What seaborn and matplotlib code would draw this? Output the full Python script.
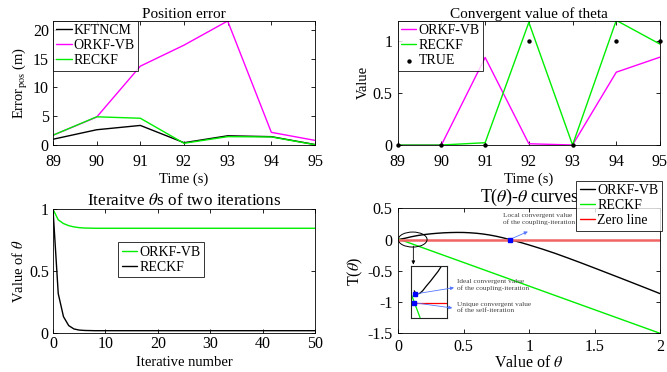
import numpy as np
import pandas as pd
import matplotlib
matplotlib.use("Agg")
import matplotlib.pyplot as plt
from matplotlib.patches import Ellipse
import seaborn as sns

# ---------------- data ----------------
time_s = [89, 90, 91, 92, 93, 94, 95]
err_kftncm = [1.0, 2.65, 3.4, 0.4, 1.6, 1.45, 0.08]
err_orkfvb = [1.7, 4.85, 13.7, 17.35, 21.55, 2.2, 0.8]
err_reckf = [1.7, 4.9, 4.65, 0.3, 1.45, 1.4, 0.05]

theta_orkfvb = [0.0, 0.0, 0.845, 0.012, 0.0, 0.703, 0.848]
theta_reckf = [0.0, 0.0, 0.022, 1.184, 0.0, 1.203, 0.974]
theta_true = [0, 0, 0, 1, 0, 1, 1]

iter_no = list(range(51))
iter_orkfvb = [1.000, 0.915, 0.885, 0.868, 0.858, 0.852, 0.849, 0.848, 0.847, 0.847,
               0.847, 0.847, 0.847, 0.847, 0.847, 0.847, 0.847, 0.847, 0.847, 0.847,
               0.847, 0.847, 0.847, 0.847, 0.847, 0.847, 0.847, 0.847, 0.847, 0.847,
               0.847, 0.847, 0.847, 0.847, 0.847, 0.847, 0.847, 0.847, 0.847, 0.847,
               0.847, 0.847, 0.847, 0.847, 0.847, 0.847, 0.847, 0.847, 0.847, 0.847,
               0.847]
iter_reckf = [1.000, 0.320, 0.134, 0.062, 0.035, 0.026, 0.023, 0.022, 0.021, 0.021,
              0.021, 0.021, 0.021, 0.021, 0.021, 0.021, 0.021, 0.021, 0.021, 0.021,
              0.021, 0.021, 0.021, 0.021, 0.021, 0.021, 0.021, 0.021, 0.021, 0.021,
              0.021, 0.021, 0.021, 0.021, 0.021, 0.021, 0.021, 0.021, 0.021, 0.021,
              0.021, 0.021, 0.021, 0.021, 0.021, 0.021, 0.021, 0.021, 0.021, 0.021,
              0.021]

theta_grid = [0.0, 0.05, 0.1, 0.15, 0.2, 0.25, 0.3, 0.35, 0.4, 0.45, 0.5, 0.55, 0.6,
              0.65, 0.7, 0.75, 0.8, 0.85, 0.9, 0.95, 1.0, 1.1, 1.2, 1.3, 1.4, 1.5,
              1.6, 1.7, 1.8, 1.9, 2.0]
T_orkfvb = [0.0, 0.02, 0.045, 0.065, 0.08, 0.092, 0.101, 0.108, 0.112, 0.114, 0.113,
            0.108, 0.1, 0.088, 0.072, 0.052, 0.028, 0.0, -0.027, -0.056, -0.087,
            -0.152, -0.222, -0.298, -0.376, -0.456, -0.537, -0.618, -0.7, -0.782, -0.865]
T_reckf_x = [0.0, 2.0]
T_reckf = [0.01, -1.5]
zero_x = [0.0, 2.0]
zero_y = [0.0, 0.0]

# zoomed view near the origin (inset, normalised coordinates)
zoom_orkf_x = [0.09, 0.13, 0.17, 0.24, 0.32, 0.42, 0.54, 0.65, 0.75, 0.84]
zoom_orkf_y = [0.52, 0.47, 0.46, 0.47, 0.52, 0.61, 0.71, 0.81, 0.90, 1.0]
zoom_reckf_x = [0.02, 0.25]
zoom_reckf_y = [0.43, 0.0]
zoom_zero_x = [0.0, 1.0]
zoom_zero_y = [0.29, 0.29]

# ---------------- style ----------------
sns.set_style("white")
plt.rcParams.update({
    "font.family": ["Liberation Serif", "DejaVu Serif"],
    "mathtext.fontset": "stix",
    "axes.unicode_minus": False,
    "axes.edgecolor": "black",
    "axes.linewidth": 0.6,
    "xtick.direction": "in",
    "ytick.direction": "in",
    "xtick.top": True,
    "ytick.right": True,
    "xtick.bottom": True,
    "ytick.left": True,
    "xtick.major.size": 3,
    "ytick.major.size": 3,
    "xtick.major.width": 0.6,
    "ytick.major.width": 0.6,
    "xtick.color": "black",
    "ytick.color": "black",
    "xtick.labelsize": 11.5,
    "ytick.labelsize": 11.5,
    "axes.labelsize": 10.5,
    "axes.titlesize": 11,
    "legend.fontsize": 10,
    "text.color": "black",
    "axes.labelcolor": "black",
})

W, H = 667, 372
fig = plt.figure(figsize=(W / 100, H / 100), dpi=100)


def add_ax(left, top, right, bottom):
    return fig.add_axes([left / W, (H - bottom) / H, (right - left) / W, (bottom - top) / H])


MAG = "#ff00ff"
GRN = "#00ee00"


def box_legend(ax, loc, anchor, **kw):
    leg = ax.legend(loc=loc, bbox_to_anchor=anchor, borderaxespad=0, frameon=True,
                    fancybox=False, edgecolor="black", handlelength=1.1,
                    handletextpad=0.15, borderpad=0.25, labelspacing=0.15, **kw)
    leg.get_frame().set_linewidth(0.7)
    return leg


# ---------- Position error ----------
ax1 = add_ax(53, 20.7, 315, 145)
sns.lineplot(x=time_s, y=err_kftncm, ax=ax1, color="black", lw=1.0, label="KFTNCM")
sns.lineplot(x=time_s, y=err_orkfvb, ax=ax1, color=MAG, lw=1.0, label="ORKF-VB")
sns.lineplot(x=time_s, y=err_reckf, ax=ax1, color=GRN, lw=1.0, label="RECKF")
ax1.set_xlim(89, 95)
ax1.set_ylim(0, 21.6)
ax1.set_xticks(time_s)
ax1.set_yticks([0, 5, 10, 15, 20])
ax1.tick_params(axis="x", pad=6.5)
ax1.tick_params(axis="y", pad=3)
ax1.set_title("Position error", pad=2)
ax1.set_xlabel("Time (s)", labelpad=2)
ax1.set_ylabel(r"Error$_{\rm pos}$ (m)", labelpad=2)
box_legend(ax1, "upper left", (0, 1))

# ---------- Convergent value of theta ----------
ax2 = add_ax(397.7, 20.7, 660, 145)
sns.lineplot(x=time_s, y=theta_orkfvb, ax=ax2, color=MAG, lw=1.0, label="ORKF-VB")
sns.lineplot(x=time_s, y=theta_reckf, ax=ax2, color=GRN, lw=1.0, label="RECKF")
sns.scatterplot(x=time_s, y=theta_true, ax=ax2, color="black", s=10, edgecolor="black",
                linewidth=0, label="TRUE", zorder=5, clip_on=False)
ax2.set_xlim(89, 95)
ax2.set_ylim(0, 1.2)
ax2.set_xticks(time_s)
ax2.set_yticks([0, 0.5, 1])
ax2.set_yticklabels(["0", "0.5", "1"])
ax2.tick_params(axis="x", pad=6.5)
ax2.tick_params(axis="y", pad=4)
ax2.set_title("Convergent value of theta", pad=2)
ax2.set_xlabel("Time (s)", labelpad=2)
ax2.set_ylabel("Value", labelpad=2)
box_legend(ax2, "upper left", (0, 1))

# ---------- Iterative thetas ----------
ax3 = add_ax(53, 209.3, 315, 333.3)
sns.lineplot(x=iter_no, y=iter_orkfvb, ax=ax3, color=GRN, lw=1.0, label="ORKF-VB")
sns.lineplot(x=iter_no, y=iter_reckf, ax=ax3, color="black", lw=1.0, label="RECKF")
ax3.set_xlim(0, 50)
ax3.set_ylim(0, 1)
ax3.set_xticks([0, 10, 20, 30, 40, 50])
ax3.set_yticks([0, 0.5, 1])
ax3.set_yticklabels(["0", "0.5", "1"])
ax3.tick_params(axis="x", pad=2)
ax3.tick_params(axis="y", pad=3)
ax3.set_title(r"Iteraitve $\theta$s of two iterations", pad=3, fontsize=12.3)
ax3.set_xlabel("Iterative number", labelpad=3)
ax3.set_ylabel(r"Value of $\theta$", labelpad=2)
box_legend(ax3, "upper left", (0.249, 0.734))

# ---------- T(theta)-theta curves ----------
ax4 = add_ax(398.3, 208.3, 660, 333.3)
sns.lineplot(x=theta_grid, y=T_orkfvb, ax=ax4, color="black", lw=1.0, label="ORKF-VB")
sns.lineplot(x=T_reckf_x, y=T_reckf, ax=ax4, color=GRN, lw=1.0, label="RECKF")
sns.lineplot(x=zero_x, y=zero_y, ax=ax4, color="red", lw=1.0, label="Zero line")
ax4.lines[-1].set_linewidth(1.8)
ax4.lines[-1].set_color("#f06464")
ax4.set_xlim(0, 2)
ax4.set_ylim(-1.5, 0.5)
ax4.set_xticks([0, 0.5, 1, 1.5, 2])
ax4.set_xticklabels(["0", "0.5", "1", "1.5", "2"])
ax4.set_yticks([0.5, 0, -0.5, -1, -1.5])
ax4.set_yticklabels(["0.5", "0", "-0.5", "-1", "-1.5"])
ax4.tick_params(axis="x", pad=4)
ax4.tick_params(axis="y", pad=4)
ax4.set_title(r"T($\theta$)-$\theta$ curves", pad=3, fontsize=13)
ax4.set_xlabel(r"Value of $\theta$", labelpad=0, fontsize=11.5)
ax4.set_ylabel(r"T($\theta$)", labelpad=2, fontsize=11.5)
leg4 = box_legend(ax4, "upper right", (1.0065, 1.222))
leg4.legend_handles[2].set_color("red")
leg4.legend_handles[2].set_linewidth(1.0)

# local convergent point of the coupling iteration
ax4.plot([0.85], [0.0], "s", color="blue", ms=2.5, zorder=6)
ax4.annotate("", xy=(0.99, 0.127), xytext=(0.85, 0.0),
             arrowprops=dict(arrowstyle="-|>", color="#5577ff", lw=0.6, mutation_scale=5,
                             shrinkA=0, shrinkB=0))
ax4.text(0.80, 0.42, "Local convergent value\nof the coupling-iteration", fontsize=5.3,
         color="#444444", va="top", ha="left", linespacing=1.2)

# region around the origin and its zoomed view
ax4.add_patch(Ellipse((0.11, 0.0), 0.22, 0.24, fill=False, edgecolor="black", lw=0.7, zorder=6))
ax4.annotate("", xy=(0.115, -0.40), xytext=(0.115, -0.105),
             arrowprops=dict(arrowstyle="-|>", color="black", lw=0.6, mutation_scale=5,
                             shrinkA=0, shrinkB=0))

axin = add_ax(411, 266, 447.3, 317.7)
sns.lineplot(x=zoom_orkf_x, y=zoom_orkf_y, ax=axin, color="black", lw=0.9)
sns.lineplot(x=zoom_reckf_x, y=zoom_reckf_y, ax=axin, color=GRN, lw=0.9)
sns.lineplot(x=zoom_zero_x, y=zoom_zero_y, ax=axin, color="red", lw=0.9)
axin.plot([0.12], [0.46], "s", color="blue", ms=2.5, zorder=6)
axin.plot([0.08], [0.29], "s", color="blue", ms=2.5, zorder=6)
axin.set_xlim(0, 1)
axin.set_ylim(0, 1)
axin.set_xticks([])
axin.set_yticks([])
axin.set_xlabel("")
axin.set_ylabel("")
for sp in axin.spines.values():
    sp.set_linewidth(0.8)
    sp.set_color("#222222")

for (x0, y0), (x1, y1) in [((0.12, 0.46), (0.426, -0.77)), ((0.08, 0.29), (0.413, -1.095))]:
    axin.annotate("", xy=(x1, y1), xycoords=ax4.transData, xytext=(x0, y0),
                  textcoords="data", annotation_clip=False,
                  arrowprops=dict(arrowstyle="-|>", color="#5577ff", lw=0.6,
                                  mutation_scale=5, shrinkA=0, shrinkB=0))

ax4.text(0.446, -0.636, "Ideal convergent value\nof the coupling-iteration", fontsize=5.3,
         color="#444444", va="top", ha="left", linespacing=1.2)
ax4.text(0.451, -0.999, "Unique convergent value\nof the self-iteration", fontsize=5.3,
         color="#444444", va="top", ha="left", linespacing=1.2)

fig.savefig("out.png", dpi=100)
